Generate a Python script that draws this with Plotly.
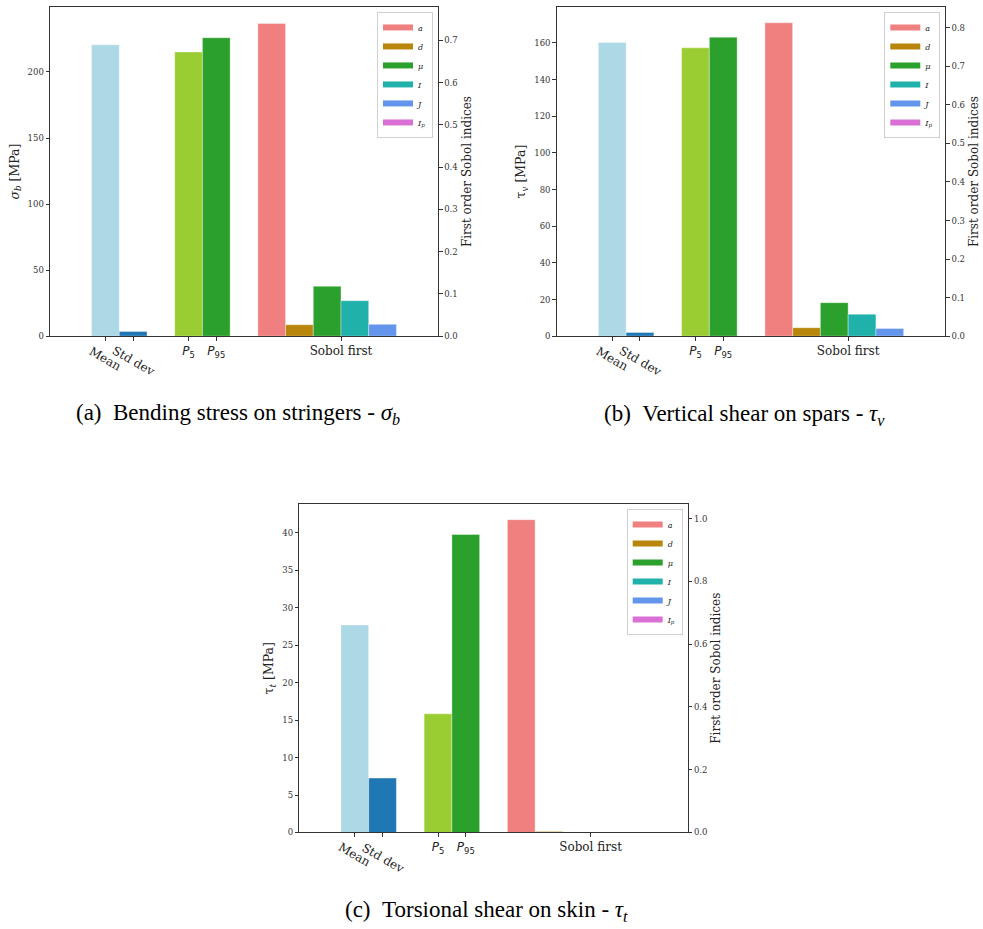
import plotly.graph_objects as go

# ---------------- data ----------------
stat_labels = ["Mean", "Std dev", "P5", "P95"]
sobol_labels = ["a", "d", "μ", "I", "J", "Ip"]

a_stats = [220.6, 3.5, 215.1, 225.9]
a_sobol = [0.740, 0.027, 0.118, 0.084, 0.028, 0.0]

b_stats = [160.2, 2.0, 157.3, 163.1]
b_sobol = [0.813, 0.022, 0.087, 0.057, 0.020, 0.0]

c_stats = [27.7, 7.26, 15.84, 39.78]
c_sobol = [0.997, 0.003, 0.0, 0.0, 0.0, 0.0]

y_titles = ["<i>σ</i><sub><i>b</i></sub> [MPa]", "τ<sub><i>v</i></sub> [MPa]", "τ<sub><i>t</i></sub> [MPa]"]
captions = ["(a)\u2002Bending stress on stringers - <i>σ<sub>b</sub></i>",
            "(b)\u2002Vertical shear on spars - <i>τ<sub>v</sub></i>",
            "(c)\u2002Torsional shear on skin - <i>τ<sub>t</sub></i>"]

# ---------------- styling ----------------
stat_colors = ["#add8e6", "#1f77b4", "#9acd32", "#2ca02c"]
sobol_colors = ["#f08080", "#b8860b", "#2ca02c", "#20b2aa", "#6495ed", "#da70d6"]
legend_text = ["<i>a</i>", "<i>d</i>", "<i>μ</i>", "<i>I</i>", "<i>J</i>", "<i>I<sub>p</sub></i>"]

W, H = 983, 929
stat_pos = [2, 3, 5, 6]
sobol_pos = [8, 9, 10, 11, 12, 13]
sobol_center = sum(sobol_pos) / len(sobol_pos)

panels = [
    dict(stats=a_stats, sobol=a_sobol, px=(50, 438), py=(7, 338), lrange=249.2, rrange=0.779,
         ldtick=50, rdtick=0.1, cap=(237.5, 416)),
    dict(stats=b_stats, sobol=b_sobol, px=(556.7, 945.3), py=(7, 338), lrange=179.6, rrange=0.854,
         ldtick=20, rdtick=0.1, cap=(744.7, 417)),
    dict(stats=c_stats, sobol=c_sobol, px=(299.3, 687.7), py=(506.7, 837), lrange=43.85, rrange=1.047,
         ldtick=5, rdtick=0.2, cap=(486.7, 916)),
]

SERIF = "DejaVu Serif"
AX = "#333333"

fig = go.Figure()
layout = dict(width=W, height=H, margin=dict(l=0, r=0, t=0, b=0),
              paper_bgcolor="white", plot_bgcolor="white", barmode="overlay",
              font=dict(family=SERIF, color="#222"))
annotations = []

for i, p in enumerate(panels):
    xn = "x" if i == 0 else f"x{i+1}"
    yl = "y" if i == 0 else f"y{2*i+1}"
    yr = f"y{2*i+2}"
    legname = "legend" if i == 0 else f"legend{i+1}"

    fig.add_trace(go.Bar(x=stat_pos, y=p["stats"], width=1, xaxis=xn, yaxis=yl,
                         marker=dict(color=stat_colors, line=dict(color="rgba(255,255,255,0.6)", width=0.6)),
                         showlegend=False, hoverinfo="y"))
    fig.add_trace(go.Bar(x=sobol_pos, y=p["sobol"], width=1, xaxis=xn, yaxis=yr,
                         marker=dict(color=sobol_colors, line=dict(color="rgba(255,255,255,0.6)", width=0.6)),
                         showlegend=False, hoverinfo="y"))
    for lab, col in zip(legend_text, sobol_colors):
        fig.add_trace(go.Scatter(x=[None], y=[None], mode="lines", name=lab,
                                 line=dict(color=col, width=6), xaxis=xn, yaxis=yr,
                                 legend=legname, showlegend=True))

    xd = [p["px"][0] / W, p["px"][1] / W]
    yd = [1 - p["py"][1] / H, 1 - p["py"][0] / H]
    xkey = "xaxis" if i == 0 else f"xaxis{i+1}"
    ylkey = "yaxis" if i == 0 else f"yaxis{2*i+1}"
    yrkey = f"yaxis{2*i+2}"

    layout[xkey] = dict(domain=xd, anchor=yl, range=[0, 14], showgrid=False, zeroline=False,
                        showline=True, linecolor=AX, linewidth=1, mirror=True,
                        ticks="outside", ticklen=3.5, tickcolor=AX, tickwidth=1,
                        tickvals=stat_pos + [sobol_center],
                        ticktext=["", "",
                                  '<span style="font-family:DejaVu Sans"><i>P</i><sub>5</sub></span>',
                                  '<span style="font-family:DejaVu Sans"><i>P</i><sub>95</sub></span>',
                                  "Sobol first"],
                        tickfont=dict(family=SERIF, size=12, color="#222"), tickangle=0,
                        fixedrange=True)
    layout[ylkey] = dict(domain=yd, anchor=xn, range=[0, p["lrange"]], dtick=p["ldtick"],
                         showgrid=False, zeroline=False, showline=True, linecolor=AX, linewidth=1,
                         ticks="outside", ticklen=3.5, tickcolor=AX, tickwidth=1,
                         tickfont=dict(family=SERIF, size=8.5, color="#333"),
                         title=dict(text=y_titles[i], font=dict(family=SERIF, size=12.5, color="#222"),
                                    standoff=5))
    layout[yrkey] = dict(overlaying=yl, anchor=xn, side="right", range=[0, p["rrange"]],
                         dtick=p["rdtick"], tickformat=".1f",
                         showgrid=False, zeroline=False, showline=True, linecolor=AX, linewidth=1,
                         ticks="outside", ticklen=3.5, tickcolor=AX, tickwidth=1,
                         tickfont=dict(family=SERIF, size=8.5, color="#333"),
                         title=dict(text="First order Sobol indices",
                                    font=dict(family=SERIF, size=12, color="#222"), standoff=5))
    layout[legname] = dict(x=(p["px"][1] - 5) / W, y=1 - (p["py"][0] + 5) / H,
                           xanchor="right", yanchor="top", xref="paper", yref="paper",
                           bgcolor="rgba(255,255,255,0.85)", bordercolor="#d0d0d0", borderwidth=1,
                           font=dict(family=SERIF, size=8, color="#222"),
                           itemwidth=30, tracegroupgap=0)

    # rotated tick labels for Mean / Std dev
    for lab, xp in zip(stat_labels[:2], stat_pos[:2]):
        annotations.append(dict(text=lab, x=xp, xref=xn, y=0, yref=f"{yl} domain",
                                xanchor="center", yanchor="top", yshift=-5, textangle=30,
                                showarrow=False, font=dict(family=SERIF, size=12, color="#222")))
    # caption
    annotations.append(dict(text=captions[i], x=p["cap"][0] / W, y=1 - p["cap"][1] / H,
                            xref="paper", yref="paper", xanchor="center", yanchor="middle",
                            showarrow=False, font=dict(family="Liberation Serif", size=23, color="black")))

layout["annotations"] = annotations
fig.update_layout(**layout)
fig.write_html("out.html", config={"displayModeBar": False},
               post_script="document.body.style.margin='0';")
